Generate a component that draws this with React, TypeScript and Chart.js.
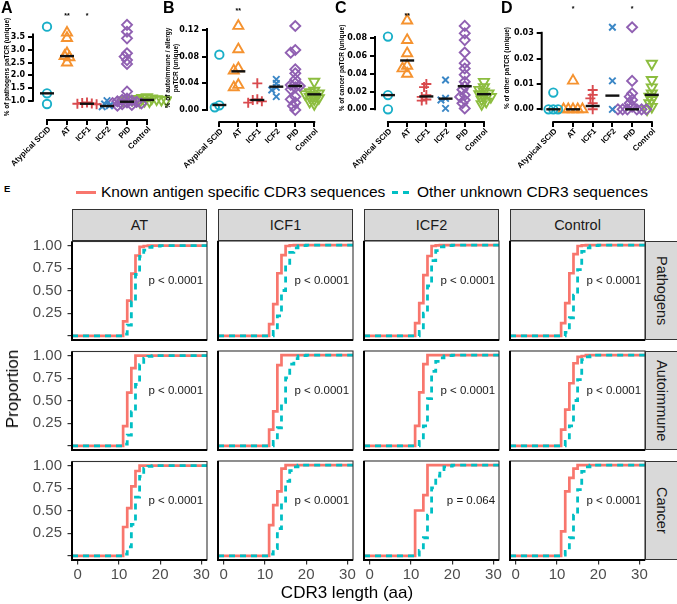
import React, { useEffect, useRef } from 'react';
import { Chart, registerables } from 'chart.js';
Chart.register(...registerables);

const FONT = '"Liberation Sans", Arial, Helvetica, sans-serif';

// ---------------- Panels A-D data ----------------
const categories = ['Atypical SCID', 'AT', 'ICF1', 'ICF2', 'PID', 'Control'];

const pathogensSCID = [3.92, 1.29, 0.87];
const pathogensAT = [3.68, 3.47, 2.87, 2.76, 2.71, 2.5];
const pathogensICF1 = [0.93, 0.91, 0.89, 0.88, 0.86];
const pathogensICF2 = [1.0, 0.87, 0.8, 0.76];
const pathogensPID = [3.99, 3.72, 3.46, 2.87, 2.74, 2.6, 2.45, 1.36, 1.08, 1.03, 1.0, 0.97, 0.95, 0.93, 0.91, 0.89, 0.86, 0.83, 0.8];
const pathogensControl = [1.14, 1.11, 1.09, 1.07, 1.06, 1.05, 1.04, 1.03, 1.02, 1.01, 1.0, 0.98, 0.96];
const pathogensMedian = [1.29, 2.76, 0.88, 0.79, 0.96, 1.03];
const pathogensTicks = [1.0, 1.5, 2.0, 2.5, 3.0, 3.5];

const autoSCID = [0.083, 0.007, 0.004];
const autoAT = [0.126, 0.091, 0.0625, 0.059, 0.0375, 0.034];
const autoICF1 = [0.04, 0.016, 0.015, 0.013, 0.011];
const autoICF2 = [0.046, 0.04, 0.034, 0.03, 0.02];
const autoPID = [0.126, 0.09, 0.086, 0.061, 0.055, 0.046, 0.04, 0.0375, 0.036, 0.034, 0.031, 0.02, 0.016, 0.011, 0.006, 0.0];
const autoControl = [0.0425, 0.029, 0.027, 0.025, 0.024, 0.022, 0.02, 0.018, 0.016, 0.0125, 0.009];
const autoMedian = [0.0075, 0.058, 0.015, 0.035, 0.036, 0.0235];
const autoTicks = [0, 0.04, 0.08, 0.12];

const cancerSCID = [0.082, 0.016, 0.0];
const cancerAT = [0.1, 0.078, 0.063, 0.049, 0.046, 0.04];
const cancerICF1 = [0.0285, 0.025, 0.016, 0.014, 0.011, 0.0098];
const cancerICF2 = [0.033, 0.0124, 0.0105, 0.001];
const cancerPID = [0.094, 0.0856, 0.078, 0.064, 0.052, 0.046, 0.039, 0.031, 0.026, 0.022, 0.016, 0.014, 0.0105, 0.0068, 0.001];
const cancerControl = [0.031, 0.025, 0.022, 0.02, 0.018, 0.017, 0.015, 0.014, 0.011, 0.0086, 0.006];
const cancerMedian = [0.016, 0.055, 0.0145, 0.012, 0.026, 0.017];
const cancerTicks = [0, 0.02, 0.04, 0.06, 0.08];

const otherSCID = [0.0066, 0.0, 0.0, 0.0];
const otherAT = [0.0113, 0.0, 0.0, 0.0, 0.0, 0.0];
const otherICF1 = [0.0076, 0.0057, 0.0043, 0.0024, 0.0];
const otherICF2 = [0.0324, 0.0112, 0.0];
const otherPID = [0.0324, 0.0112, 0.0063, 0.005, 0.0037, 0.0024, 0.001, 0.0, 0.0, 0.0, 0.0, 0.0, 0.0];
const otherControl = [0.018, 0.0116, 0.0087, 0.0063, 0.005, 0.0037, 0.0024, 0.001, 0.0];
const otherMedian = [0.0, 0.0, 0.0013, 0.0054, 0.0, 0.0057];
const otherTicks = [0, 0.01, 0.02, 0.03];

const groupColors = ['#19AFC8', '#F5922F', '#D94A4E', '#3B87C6', '#9060B2', '#8CBD3F'];
const groupShapes = ['circle', 'triangle', 'cross', 'crossRot', 'rectRot', 'triangle'];
const groupRotation = [0, 0, 0, 0, 0, 180];
const groupRadius = [4.2, 5.8, 5, 4.6, 5, 5.8];

// ---------------- Panel E data ----------------
const cdr3Lengths = [10, 11, 12, 13, 14, 15, 16, 17, 18, 19, 20];
const ecdfColumns = ['AT', 'ICF1', 'ICF2', 'Control'];
const ecdfRows = ['Pathogens', 'Autoimmune', 'Cancer'];

const knownPathogens = [
  [0, 0.16, 0.39, 0.69, 0.89, 0.985, 0.995, 1, 1, 1, 1],
  [0, 0.13, 0.35, 0.69, 0.89, 0.99, 0.997, 1, 1, 1, 1],
  [0, 0.14, 0.36, 0.67, 0.88, 0.99, 0.997, 1, 1, 1, 1],
  [0, 0.14, 0.36, 0.69, 0.9, 0.99, 0.997, 1, 1, 1, 1],
];
const otherPathogens = [
  [0, 0.02, 0.12, 0.38, 0.68, 0.88, 0.95, 0.98, 0.99, 0.995, 1],
  [0, 0.0, 0.05, 0.22, 0.5, 0.78, 0.92, 0.97, 0.99, 0.995, 1],
  [0, 0.0, 0.05, 0.25, 0.55, 0.83, 0.94, 0.98, 0.99, 0.995, 1],
  [0, 0.0, 0.04, 0.2, 0.45, 0.73, 0.93, 0.97, 0.99, 0.995, 1],
];
const knownAutoimmune = [
  [0, 0.22, 0.59, 0.86, 1, 1, 1, 1, 1, 1, 1],
  [0, 0.18, 0.38, 0.89, 1, 1, 1, 1, 1, 1, 1],
  [0, 0.22, 0.59, 0.9, 1, 1, 1, 1, 1, 1, 1],
  [0, 0.18, 0.4, 0.69, 0.91, 0.98, 0.99, 1, 1, 1, 1],
];
const otherAutoimmune = [
  [0, 0.02, 0.12, 0.38, 0.68, 0.9, 0.97, 0.99, 1, 1, 1],
  [0, 0.0, 0.05, 0.2, 0.48, 0.75, 0.9, 0.96, 0.99, 0.995, 1],
  [0, 0.0, 0.05, 0.22, 0.52, 0.82, 0.93, 0.97, 0.99, 0.995, 1],
  [0, 0.0, 0.05, 0.22, 0.5, 0.73, 0.95, 0.98, 0.99, 1, 1],
];
const knownCancer = [
  [0, 0.32, 0.53, 0.77, 0.94, 1, 1, 1, 1, 1, 1],
  [0, 0.34, 0.56, 0.71, 0.96, 1, 1, 1, 1, 1, 1],
  [0, 0.5, 0.5, 0.67, 1, 1, 1, 1, 1, 1, 1],
  [0, 0.27, 0.71, 0.86, 0.96, 1, 1, 1, 1, 1, 1],
];
const otherCancer = [
  [0, 0.02, 0.1, 0.35, 0.65, 0.88, 0.97, 0.99, 1, 1, 1],
  [0, 0.02, 0.08, 0.3, 0.58, 0.82, 0.94, 0.98, 1, 1, 1],
  [0, 0.01, 0.06, 0.2, 0.45, 0.75, 0.88, 0.95, 0.98, 0.99, 1],
  [0, 0.01, 0.05, 0.2, 0.45, 0.73, 0.93, 0.98, 1, 1, 1],
];
const pValuesPathogens = ['p < 0.0001', 'p < 0.0001', 'p < 0.0001', 'p < 0.0001'];
const pValuesAutoimmune = ['p < 0.0001', 'p < 0.0001', 'p < 0.0001', 'p < 0.0001'];
const pValuesCancer = ['p < 0.0001', 'p < 0.0001', 'p = 0.064', 'p < 0.0001'];
const cdr3Ticks = [0, 10, 20, 30];
const proportionTicks = [0, 0.25, 0.5, 0.75, 1];
const proportionTickLabels = ['', '0.25', '0.50', '0.75', '1.00'];

const knownByRow = [knownPathogens, knownAutoimmune, knownCancer];
const otherByRow = [otherPathogens, otherAutoimmune, otherCancer];
const pByRow = [pValuesPathogens, pValuesAutoimmune, pValuesCancer];

// ---------------- layout ----------------
const topPanels = [
  { letter: 'A', letterX: 1, left: 0, width: 172, yAxisX: 33, cat0X: 47, catStep: 20, valueRef: 1.0, pixelRef: 100.7, pxPerUnit: 25.36, xAxisY: 120,
    groups: [pathogensSCID, pathogensAT, pathogensICF1, pathogensICF2, pathogensPID, pathogensControl], medians: pathogensMedian,
    ticks: pathogensTicks, digits: 1, title: '% of pathogens paTCR (unique)', titlePad: 3.6, yLineMax: 3.65,
    stars: [{ cat: 1, text: '**' }, { cat: 2, text: '*' }], starY: 15 },
  { letter: 'B', letterX: 163, left: 164, width: 172, yAxisX: 207, cat0X: 220, catStep: 20, valueRef: 0, pixelRef: 110, pxPerUnit: 666.7, xAxisY: 122,
    groups: [autoSCID, autoAT, autoICF1, autoICF2, autoPID, autoControl], medians: autoMedian,
    ticks: autoTicks, digits: 2, title: ['% of autoimmune / allergy', 'paTCR (unique)'], titlePad: 0.2, yLineMax: 0.123,
    stars: [{ cat: 1, text: '**' }], starY: 10 },
  { letter: 'C', letterX: 335, left: 334, width: 172, yAxisX: 375, cat0X: 388.3, catStep: 19.7, valueRef: 0, pixelRef: 109.3, pxPerUnit: 887.5, xAxisY: 122,
    groups: [cancerSCID, cancerAT, cancerICF1, cancerICF2, cancerPID, cancerControl], medians: cancerMedian,
    ticks: cancerTicks, digits: 2, title: '% of cancer paTCR (unique)', titlePad: 4, yLineMax: 0.0826,
    stars: [{ cat: 1, text: '**' }], starY: 15 },
  { letter: 'D', letterX: 501, left: 500, width: 177, yAxisX: 541.7, cat0X: 553.3, catStep: 19.7, valueRef: 0, pixelRef: 109.3, pxPerUnit: 2533, xAxisY: 122,
    groups: [otherSCID, otherAT, otherICF1, otherICF2, otherPID, otherControl], medians: otherMedian,
    ticks: otherTicks, digits: 2, title: '% of other paTCR (unique)', titlePad: 3, yLineMax: 0.0306,
    stars: [{ cat: 1, text: '*' }, { cat: 4, text: '*' }], starY: 8 },
];
const TOP_H = 180;
const TOP_T = 14;

const ecdfColLefts = [72, 218, 364, 510];
const ecdfRowTops = [241, 351, 461];
const PANEL_W = 135;
const PANEL_H = 99;
const E_LEFT_PAD = 70;
const E_TOP_PAD = 14;
const E_RIGHT_PAD = 12;
const E_BOTTOM = 30;
const X_MIN = -1.4;
const X_MAX = 31.35;
const Y_MIN = -0.045;
const Y_MAX = 1.045;
const P_LABEL_X = 30.4;
const P_LABEL_Y = 0.61;

function swarmOffsets(values: number[], pxPerUnit: number, catPx: number): number[] {
  const placed: { off: number; py: number }[] = [];
  return values.map((v) => {
    const py = v * pxPerUnit;
    for (let j = 0; j < 60; j++) {
      const off = (j % 2 === 0 ? 1 : -1) * Math.ceil(j / 2) * 0.12;
      if (placed.every((p) => Math.hypot((p.off - off) * catPx, p.py - py) >= 3.6)) {
        placed.push({ off, py });
        return off;
      }
    }
    return 0;
  });
}

function topConfig(s: any) {
  const chartRight = s.cat0X + 5 * s.catStep + 13;
  const xMin = (s.yAxisX - s.cat0X) / s.catStep;
  const xMax = (chartRight - s.cat0X) / s.catStep;
  const yMin = s.valueRef + (s.pixelRef - s.xAxisY) / s.pxPerUnit;
  const yMax = s.valueRef + (s.pixelRef - TOP_T) / s.pxPerUnit;
  const padRight = s.left + s.width - chartRight;
  const medianDs = {
    data: s.medians.map((m: number, i: number) => ({ x: i, y: m })),
    pointStyle: 'line', pointRadius: 7, pointBorderColor: '#111', borderColor: '#111', pointBorderWidth: 2.4,
    showLine: false, clip: false,
  };
  const groupDs = s.groups.map((vals: number[], gi: number) => {
    const offs = swarmOffsets(vals, s.pxPerUnit, s.catStep);
    return {
      data: vals.map((v, i) => ({ x: gi + offs[i], y: v })),
      pointStyle: groupShapes[gi], pointRotation: groupRotation[gi], pointRadius: groupRadius[gi],
      pointBorderColor: groupColors[gi], borderColor: groupColors[gi], pointBackgroundColor: 'rgba(0,0,0,0)',
      backgroundColor: 'rgba(0,0,0,0)', pointBorderWidth: 1.9, showLine: false, clip: false,
    };
  });
  const decor = {
    id: 'topDecor',
    afterDraw(chart: any) {
      const { ctx, chartArea: a, scales } = chart;
      const x = scales.x, y = scales.y;
      ctx.save();
      ctx.strokeStyle = '#000';
      ctx.lineWidth = 2;
      ctx.beginPath();
      ctx.moveTo(a.left, y.getPixelForValue(s.ticks[0]) + 1);
      ctx.lineTo(a.left, y.getPixelForValue(s.yLineMax));
      ctx.stroke();
      ctx.beginPath();
      ctx.moveTo(x.getPixelForValue(0) - 1, a.bottom);
      ctx.lineTo(x.getPixelForValue(categories.length - 1) + 1, a.bottom);
      ctx.stroke();
      ctx.fillStyle = '#000';
      // category labels, rotated 45 degrees
      ctx.font = `bold 8px ${FONT}`;
      ctx.textAlign = 'right';
      ctx.textBaseline = 'middle';
      categories.forEach((name, i) => {
        ctx.save();
        ctx.translate(x.getPixelForValue(i) + 2.5, a.bottom + 8);
        ctx.rotate(-Math.PI / 4);
        ctx.fillText(name, 0, 0);
        ctx.restore();
      });
      ctx.font = `bold 7px ${FONT}`;
      ctx.textAlign = 'center';
      s.stars.forEach((st: any) => ctx.fillText(st.text, x.getPixelForValue(st.cat), s.starY + 1));
      ctx.restore();
    },
  };
  return {
    type: 'scatter',
    data: { datasets: [medianDs, ...groupDs] },
    plugins: [decor],
    options: {
      animation: false, responsive: false, events: [],
      layout: { padding: { left: 0, top: TOP_T, right: padRight, bottom: 0 } },
      plugins: { legend: { display: false }, tooltip: { enabled: false } },
      scales: {
        x: {
          type: 'linear', min: xMin, max: xMax, bounds: 'data',
          afterBuildTicks: (sc: any) => { sc.ticks = categories.map((_, i) => ({ value: i })); },
          afterFit: (sc: any) => { sc.height = TOP_H - s.xAxisY; },
          ticks: { display: false, autoSkip: false },
          grid: { drawOnChartArea: false, drawTicks: true, tickLength: 5, lineWidth: 2, color: '#000' },
          border: { display: false },
        },
        y: {
          type: 'linear', min: yMin, max: yMax, bounds: 'data',
          afterBuildTicks: (sc: any) => { sc.ticks = s.ticks.map((v: number) => ({ value: v })); },
          afterFit: (sc: any) => { sc.width = s.yAxisX - s.left; },
          ticks: { padding: 3, color: '#000', font: { family: '"DejaVu Sans", sans-serif', weight: 'bold', size: 8 },
            callback: (v: any) => Number(v).toFixed(s.digits) },
          grid: { drawOnChartArea: false, drawTicks: true, tickLength: 5, lineWidth: 2, color: '#000' },
          border: { display: false },
          title: { display: true, text: s.title, color: '#000', padding: { top: s.titlePad, bottom: 0 },
            font: { family: FONT, weight: 'bold', size: 6.5 } },
        },
      },
    },
  };
}

function ecdfConfig(r: number, c: number) {
  const toPts = (arr: number[]) => [
    { x: X_MIN, y: 0 },
    ...cdr3Lengths.map((L, i) => ({ x: L, y: arr[i] })),
    { x: X_MAX, y: 1 },
  ];
  const showY = c === 0;
  const showX = r === ecdfRows.length - 1;
  const pText = pByRow[r][c];
  const decor = {
    id: 'ecdfDecor',
    afterDatasetsDraw(chart: any) {
      const { ctx, chartArea: a, scales } = chart;
      ctx.save();
      ctx.font = `11.5px ${FONT}`;
      ctx.fillStyle = '#1a1a1a';
      ctx.textAlign = 'right';
      ctx.textBaseline = 'middle';
      ctx.fillText(pText, scales.x.getPixelForValue(P_LABEL_X), scales.y.getPixelForValue(P_LABEL_Y));
      ctx.strokeStyle = '#333';
      ctx.lineWidth = 1.1;
      ctx.strokeRect(a.left, a.top, a.width, a.height);
      ctx.strokeStyle = '#000';
      ctx.lineWidth = 2;
      ctx.beginPath();
      ctx.moveTo(a.left, a.top);
      ctx.lineTo(a.left, a.bottom);
      ctx.lineTo(a.right, a.bottom);
      ctx.stroke();
      ctx.restore();
    },
  };
  const tickFont = { family: FONT, size: 15 };
  return {
    type: 'line',
    data: {
      datasets: [
        { data: toPts(otherByRow[r][c]), borderColor: '#00BFC4', borderWidth: 2.8, borderDash: [6, 5],
          stepped: 'before', pointRadius: 0, fill: false, borderCapStyle: 'butt', borderJoinStyle: 'miter' },
        { data: toPts(knownByRow[r][c]), borderColor: '#F8766D', borderWidth: 2.7,
          stepped: 'before', pointRadius: 0, fill: false, borderCapStyle: 'butt', borderJoinStyle: 'miter' },
      ],
    },
    plugins: [decor],
    options: {
      animation: false, responsive: false, events: [],
      layout: { padding: { left: 0, top: E_TOP_PAD, right: E_RIGHT_PAD, bottom: 0 } },
      plugins: { legend: { display: false }, tooltip: { enabled: false } },
      scales: {
        x: {
          type: 'linear', min: X_MIN, max: X_MAX, bounds: 'data',
          afterBuildTicks: (sc: any) => { sc.ticks = cdr3Ticks.map((v) => ({ value: v })); },
          afterFit: (sc: any) => { sc.height = E_BOTTOM; },
          ticks: { display: showX, autoSkip: false, maxRotation: 0, minRotation: 0, padding: 1.5, color: '#4D4D4D', font: tickFont,
            callback: (v: any) => String(v) },
          grid: { display: showX, drawOnChartArea: false, drawTicks: true, tickLength: 4.5, lineWidth: 1.2, color: '#333' },
          border: { display: false },
        },
        y: {
          type: 'linear', min: Y_MIN, max: Y_MAX, bounds: 'data',
          afterBuildTicks: (sc: any) => { sc.ticks = proportionTicks.map((v) => ({ value: v })); },
          afterFit: (sc: any) => { sc.width = E_LEFT_PAD; },
          ticks: { display: showY, padding: 5.5, color: '#4D4D4D', font: tickFont,
            callback: (v: any) => proportionTickLabels[proportionTicks.indexOf(Number(v))] ?? '' },
          grid: { display: showY, drawOnChartArea: false, drawTicks: true, tickLength: 4.5, lineWidth: 1.2, color: '#333' },
          border: { display: false },
        },
      },
    },
  };
}

function ChartCanvas({ left, top, width, height, make }: any) {
  const ref = useRef<HTMLCanvasElement>(null);
  useEffect(() => {
    const chart = new Chart(ref.current as HTMLCanvasElement, make());
    return () => chart.destroy();
  }, []);
  return (
    <canvas ref={ref} width={width} height={height}
      style={{ position: 'absolute', left, top, width, height }} />
  );
}

export default function App() {
  const abs = (o: any) => ({ position: 'absolute', ...o });
  return (
    <div style={abs({ left: 0, top: 0, width: 677, height: 604, background: '#fff', overflow: 'hidden', fontFamily: FONT, color: '#000' })}>
      {topPanels.map((s) => (
        <ChartCanvas key={s.letter} left={s.left} top={0} width={s.width} height={TOP_H} make={() => topConfig(s)} />
      ))}
      {topPanels.map((s) => (
        <div key={'L' + s.letter} style={abs({ left: s.letterX, top: 0, fontSize: 16, fontWeight: 'bold', lineHeight: '16px' })}>{s.letter}</div>
      ))}
      <div style={abs({ left: 4, top: 184, fontSize: 9.5, fontWeight: 'bold', lineHeight: '9.5px' })}>E</div>

      {/* legend */}
      <div style={abs({ left: 76, top: 190.5, width: 20, height: 3, background: '#F8766D' })} />
      <div style={abs({ left: 101, top: 183, fontSize: 15.5, lineHeight: '18px', whiteSpace: 'nowrap' })}>Known antigen specific CDR3 sequences</div>
      <div style={abs({ left: 392, top: 190.5, width: 19, height: 3,
        background: 'repeating-linear-gradient(90deg, #00BFC4 0px, #00BFC4 6px, transparent 6px, transparent 11px)' })} />
      <div style={abs({ left: 417, top: 183, fontSize: 15.5, lineHeight: '18px', whiteSpace: 'nowrap' })}>Other unknown CDR3 sequences</div>

      {/* column strips */}
      {ecdfColumns.map((name, c) => (
        <div key={'cs' + c} style={abs({ left: ecdfColLefts[c], top: 209, width: PANEL_W, height: 32, boxSizing: 'border-box',
          background: '#D9D9D9', border: '1px solid #333', display: 'flex', alignItems: 'center', justifyContent: 'center',
          fontSize: 14.5, color: '#1A1A1A' })}>{name}</div>
      ))}
      {/* row strips */}
      {ecdfRows.map((name, r) => (
        <div key={'rs' + r} style={abs({ left: ecdfColLefts[3] + PANEL_W, top: ecdfRowTops[r], width: 33, height: PANEL_H, boxSizing: 'border-box',
          background: '#D9D9D9', border: '1px solid #333', display: 'flex', alignItems: 'center', justifyContent: 'center',
          fontSize: 14.5, color: '#1A1A1A' })}>
          <span style={{ writingMode: 'vertical-rl', whiteSpace: 'nowrap' }}>{name}</span>
        </div>
      ))}

      {ecdfRows.map((_, r) => ecdfColumns.map((__, c) => (
        <ChartCanvas key={`e${r}${c}`} left={ecdfColLefts[c] - E_LEFT_PAD} top={ecdfRowTops[r] - E_TOP_PAD}
          width={E_LEFT_PAD + PANEL_W + E_RIGHT_PAD} height={E_TOP_PAD + PANEL_H + E_BOTTOM} make={() => ecdfConfig(r, c)} />
      )))}

      <div style={abs({ left: 13, top: 389, transform: 'translate(-50%, -50%) rotate(-90deg)', whiteSpace: 'nowrap', fontSize: 17, lineHeight: '20px' })}>Proportion</div>
      <div style={abs({ left: 347, top: 593, transform: 'translate(-50%, -50%)', whiteSpace: 'nowrap', fontSize: 17, lineHeight: '20px' })}>CDR3 length (aa)</div>
    </div>
  );
}
